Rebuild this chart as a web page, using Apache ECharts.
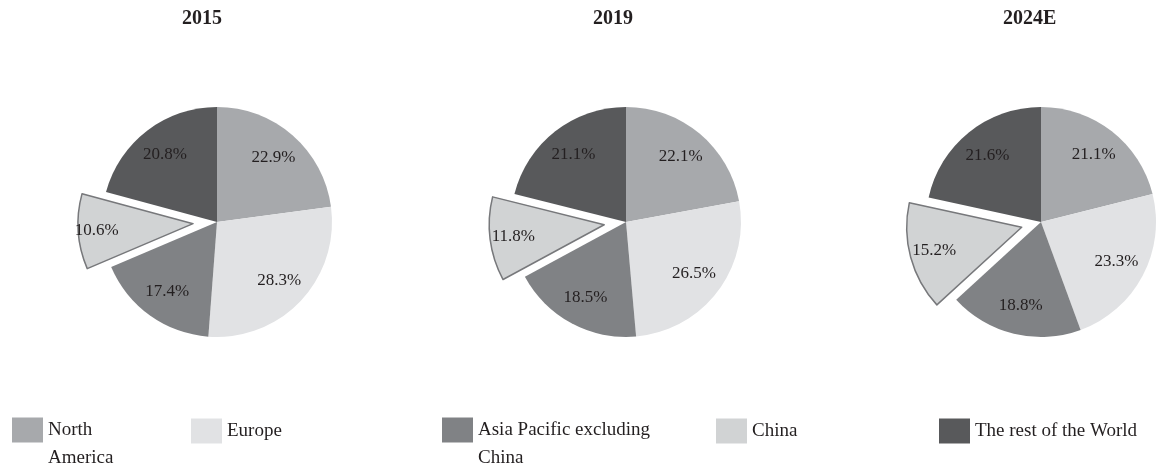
<!DOCTYPE html>
<html>
<head>
<meta charset="utf-8">
<script src="https://cdn.jsdelivr.net/npm/echarts@6/dist/echarts.min.js"></script>
<style>
  html, body { margin: 0; padding: 0; background: #fff; }
  #chart { width: 1160px; height: 467px; }
</style>
</head>
<body>
<div id="chart"></div>
<script>
// regions, clockwise from 12 o'clock
const regions = ['North America', 'Europe', 'Asia Pacific excluding China', 'China', 'The rest of the World'];
const years = ['2015', '2019', '2024E'];
const share2015 = [22.9, 28.3, 17.4, 10.6, 20.8];
const share2019 = [22.1, 26.5, 18.5, 11.8, 21.1];
const share2024 = [21.1, 23.3, 18.8, 15.2, 21.6];

const colors = ['#a7a9ac', '#e1e2e4', '#808285', '#d1d3d4', '#58595b'];
const FONT = '"Liberation Serif", "Times New Roman", serif';

const pies = [
  { values: share2015, center: [217, 222], offset: 24, labelOffset: 35, titleLeft: 182 },
  { values: share2019, center: [626, 222], offset: 22, labelOffset: 28, titleLeft: 593 },
  { values: share2024, center: [1041, 222], offset: 20, labelOffset: 25, titleLeft: 1003 }
];

function sliceData(values, withBorder) {
  return regions.map(function (name, i) {
    const item = { name: name, value: values[i] };
    if (name === 'China') {
      item.selected = true;
      if (withBorder) item.itemStyle = { borderColor: '#77787b', borderWidth: 1.5 };
    }
    return item;
  });
}

const series = [];
pies.forEach(function (p) {
  series.push({
    type: 'pie',
    center: p.center,
    radius: 115,
    startAngle: 90,
    selectedMode: 'single',
    selectedOffset: p.offset,
    silent: true,
    animation: false,
    label: { show: false },
    labelLine: { show: false },
    emphasis: { disabled: true },
    data: sliceData(p.values, true)
  });
});
// transparent ring only to place the percentage labels further out
pies.forEach(function (p) {
  series.push({
    type: 'pie',
    center: p.center,
    radius: [50, 115],
    startAngle: 90,
    selectedMode: 'single',
    selectedOffset: p.labelOffset,
    silent: true,
    animation: false,
    itemStyle: { color: 'rgba(0,0,0,0)' },
    label: {
      show: true,
      position: 'inside',
      color: '#231f20',
      fontFamily: FONT,
      fontSize: 17,
      formatter: function (d) { return d.value.toFixed(1) + '%'; }
    },
    labelLine: { show: false },
    emphasis: { disabled: true },
    data: sliceData(p.values, false)
  });
});

const legendPos = [
  { left: 12, twoLines: true },
  { left: 191, twoLines: false },
  { left: 442, twoLines: true },
  { left: 716, twoLines: false },
  { left: 939, twoLines: false }
];
// leading blank line keeps the first line level with the swatch
const legendText = {
  'North America': '\nNorth\nAmerica',
  'Asia Pacific excluding China': '\nAsia Pacific excluding\nChina'
};

const legends = regions.map(function (name, i) {
  const lp = legendPos[i];
  return {
    data: [name],
    left: lp.left,
    top: lp.twoLines ? 388 : 417,
    padding: 0,
    icon: 'rect',
    itemWidth: 31,
    itemHeight: 25,
    itemGap: 0,
    selectedMode: false,
    itemStyle: { borderWidth: 0 },
    formatter: function (n) { return legendText[n] || n; },
    textStyle: {
      fontFamily: FONT,
      fontSize: 19,
      color: '#231f20',
      lineHeight: 28
    }
  };
});

const chart = echarts.init(document.getElementById('chart'));
chart.setOption({
  color: colors,
  animation: false,
  title: pies.map(function (p, i) {
    return {
      text: years[i],
      left: p.titleLeft,
      top: 9,
      padding: 0,
      textStyle: { fontFamily: FONT, fontSize: 20, fontWeight: 'bold', color: '#231f20' }
    };
  }),
  legend: legends,
  series: series
});
</script>
</body>
</html>
